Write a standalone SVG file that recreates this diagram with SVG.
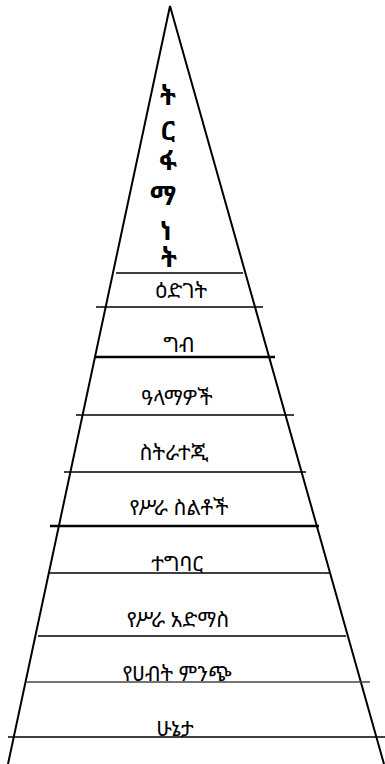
<svg xmlns="http://www.w3.org/2000/svg" width="385" height="764" viewBox="0 0 385 764">
<style>
.edge{stroke:#000;stroke-width:2;fill:none}
.ln{stroke:#000;stroke-width:1.6}
.lnb{stroke:#000;stroke-width:2.6}
.lng{stroke:#444;stroke-width:1.4}
.lbl{font-family:"Noto Sans Ethiopic","Abyssinica SIL","Noto Sans","DejaVu Sans",sans-serif;font-size:21px;fill:#000;text-anchor:middle}
.ttl{font-family:"Noto Sans Ethiopic","Abyssinica SIL","Noto Sans","DejaVu Sans",sans-serif;font-size:26px;font-weight:bold;fill:#000;text-anchor:middle}
</style>
<g id="connectors">
<path class="edge" d="M8,764 L170,6 L384,764"/>
<line class="ln" x1="116" y1="273" x2="243" y2="273"/>
<line class="ln" x1="96" y1="307" x2="263" y2="307"/>
<line class="lnb" x1="95" y1="357" x2="275" y2="357"/>
<line class="ln" x1="76" y1="415" x2="294" y2="415"/>
<line class="ln" x1="64" y1="472" x2="306" y2="472"/>
<line class="lnb" x1="50" y1="526" x2="319" y2="526"/>
<line class="ln" x1="48" y1="573" x2="331" y2="573"/>
<line class="ln" x1="38" y1="636" x2="346" y2="636"/>
<line class="lng" x1="26" y1="682" x2="370" y2="682"/>
<line class="ln" x1="8" y1="737" x2="385" y2="737"/>
</g>
<g id="title">
<text class="ttl" x="168" y="105">ት</text>
<text class="ttl" x="168" y="140">ር</text>
<text class="ttl" x="168" y="170">ፋ</text>
<text class="ttl" x="163" y="205">ማ</text>
<text class="ttl" x="166" y="240">ነ</text>
<text class="ttl" x="169" y="267">ት</text>
</g>
<g id="n1"><text class="lbl" x="181" y="298">ዕድገት</text></g>
<g id="n2"><text class="lbl" x="179" y="352">ግብ</text></g>
<g id="n3"><text class="lbl" x="177" y="405">ዓላማዎች</text></g>
<g id="n4"><text class="lbl" x="174" y="460">ስትራተጂ</text></g>
<g id="n5"><text class="lbl" x="179" y="515">የሥራ ስልቶች</text></g>
<g id="n6"><text class="lbl" x="177" y="571">ተግባር</text></g>
<g id="n7"><text class="lbl" x="178" y="627">የሥራ አድማስ</text></g>
<g id="n8"><text class="lbl" x="177" y="681">የሀብት ምንጭ</text></g>
<g id="n9"><text class="lbl" x="175" y="736">ሁኔታ</text></g>
</svg>
